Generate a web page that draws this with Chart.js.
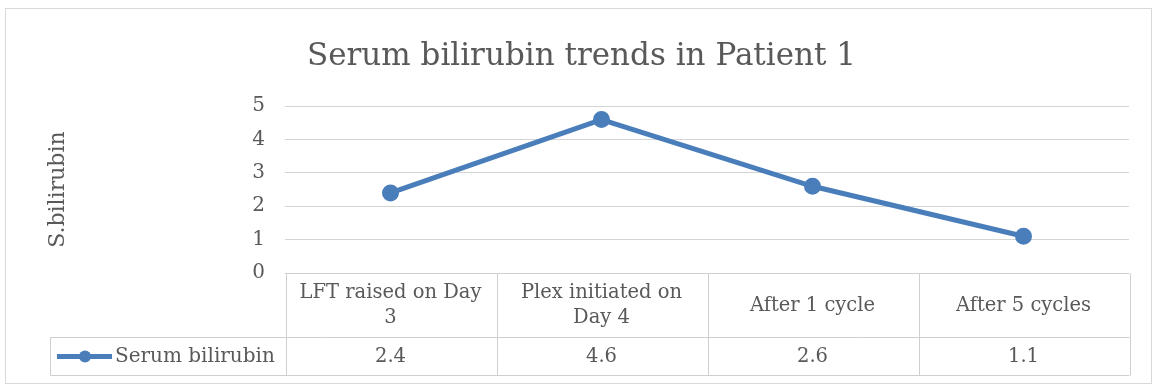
<!DOCTYPE html>
<html>
<head>
<meta charset="utf-8">
<title>Serum bilirubin trends in Patient 1</title>
<script src="https://cdn.jsdelivr.net/npm/chart.js@4.4.1/dist/chart.umd.min.js"></script>
<style>
  html, body { margin: 0; padding: 0; background: #fff; }
</style>
</head>
<body>
<canvas id="chart" width="1154" height="385"></canvas>
<script>
// data
const categories = [["LFT raised on Day", "3"], ["Plex initiated on", "Day 4"], ["After 1 cycle"], ["After 5 cycles"]];
const seriesName = "Serum bilirubin";
const bilirubin = [2.4, 4.6, 2.6, 1.1];
const yTicks = [0, 1, 2, 3, 4, 5];

const FONT = "'DejaVu Serif', serif";
const TEXT = "#595959";
const LINE = "#4a7ebb";
const GRID = "#d4d4d4";

// frame around the whole chart
const frame = {
  id: "frame",
  beforeDraw(chart) {
    const { ctx, width, height } = chart;
    ctx.save();
    ctx.fillStyle = "#fff";
    ctx.fillRect(0, 0, width, height);
    ctx.strokeStyle = "#d9d9d9";
    ctx.lineWidth = 1;
    ctx.strokeRect(5.5, 8.5, width - 8, height - 10);
    ctx.restore();
  }
};

// excel style data table under the plot
const dataTable = {
  id: "dataTable",
  afterDraw(chart) {
    const { ctx, chartArea, scales: { x } } = chart;
    const top = Math.round(chartArea.bottom) + 0.5;
    const mid = top + 64;
    const bottom = mid + 38;
    const left = Math.round(chartArea.left) + 0.5;
    const right = Math.round(chartArea.right) + 0.5;
    const legendLeft = 50.5;
    const w = (right - left) / categories.length;

    ctx.save();
    ctx.strokeStyle = "#cfcfcf";
    ctx.lineWidth = 1;
    ctx.beginPath();
    ctx.moveTo(left, top); ctx.lineTo(right, top);
    ctx.moveTo(legendLeft, mid); ctx.lineTo(right, mid);
    ctx.moveTo(legendLeft, bottom); ctx.lineTo(right, bottom);
    ctx.moveTo(legendLeft, mid); ctx.lineTo(legendLeft, bottom);
    for (let i = 0; i <= categories.length; i++) {
      const xx = Math.round(left + i * w) + 0.5;
      ctx.moveTo(xx, top); ctx.lineTo(xx, bottom);
    }
    ctx.stroke();

    ctx.fillStyle = TEXT;
    ctx.textAlign = "center";
    ctx.textBaseline = "middle";
    ctx.font = "19.5px " + FONT;
    categories.forEach((lines, i) => {
      const cx = x.getPixelForValue(i);
      const lh = 25;
      const y0 = (top + mid) / 2 - (lines.length - 1) * lh / 2;
      lines.forEach((t, j) => ctx.fillText(t, cx, y0 + j * lh));
      ctx.fillText(String(bilirubin[i]), cx, (mid + bottom) / 2);
    });

    // legend key
    const ky = (mid + bottom) / 2;
    ctx.strokeStyle = LINE;
    ctx.lineWidth = 5;
    ctx.beginPath();
    ctx.moveTo(57, ky); ctx.lineTo(112, ky);
    ctx.stroke();
    ctx.fillStyle = LINE;
    ctx.beginPath();
    ctx.arc(85, ky, 6, 0, Math.PI * 2);
    ctx.fill();
    ctx.fillStyle = TEXT;
    ctx.textAlign = "left";
    ctx.font = "20px " + FONT;
    ctx.fillText(seriesName, 115, ky);
    ctx.restore();
  }
};

new Chart(document.getElementById("chart"), {
  type: "line",
  data: {
    labels: categories,
    datasets: [{
      label: seriesName,
      data: bilirubin,
      borderColor: LINE,
      backgroundColor: LINE,
      borderWidth: 5,
      pointRadius: 6,
      pointHoverRadius: 6,
      tension: 0
    }]
  },
  options: {
    responsive: false,
    animation: false,
    layout: { padding: { top: 0, right: 25, bottom: 112, left: 34 } },
    plugins: {
      legend: { display: false },
      tooltip: { enabled: false },
      title: {
        display: true,
        text: "Serum bilirubin trends in Patient 1",
        color: TEXT,
        font: { family: FONT, size: 31, weight: "normal" },
        padding: { top: 38, bottom: 31 }
      }
    },
    scales: {
      x: { display: false, offset: true },
      y: {
        min: yTicks[0],
        max: yTicks[yTicks.length - 1],
        afterFit(s) { s.width = 251; },
        afterBuildTicks(s) { s.ticks = yTicks.map(v => ({ value: v })); },
        border: { display: false },
        grid: { color: GRID, lineWidth: 1, drawTicks: false },
        ticks: { color: TEXT, padding: 20, font: { family: FONT, size: 20 } },
        title: {
          display: true,
          text: "S.bilirubin",
          color: TEXT,
          font: { family: FONT, size: 22 },
          padding: { top: 11, bottom: 0 }
        }
      }
    }
  },
  plugins: [frame, dataTable]
});
</script>
</body>
</html>
